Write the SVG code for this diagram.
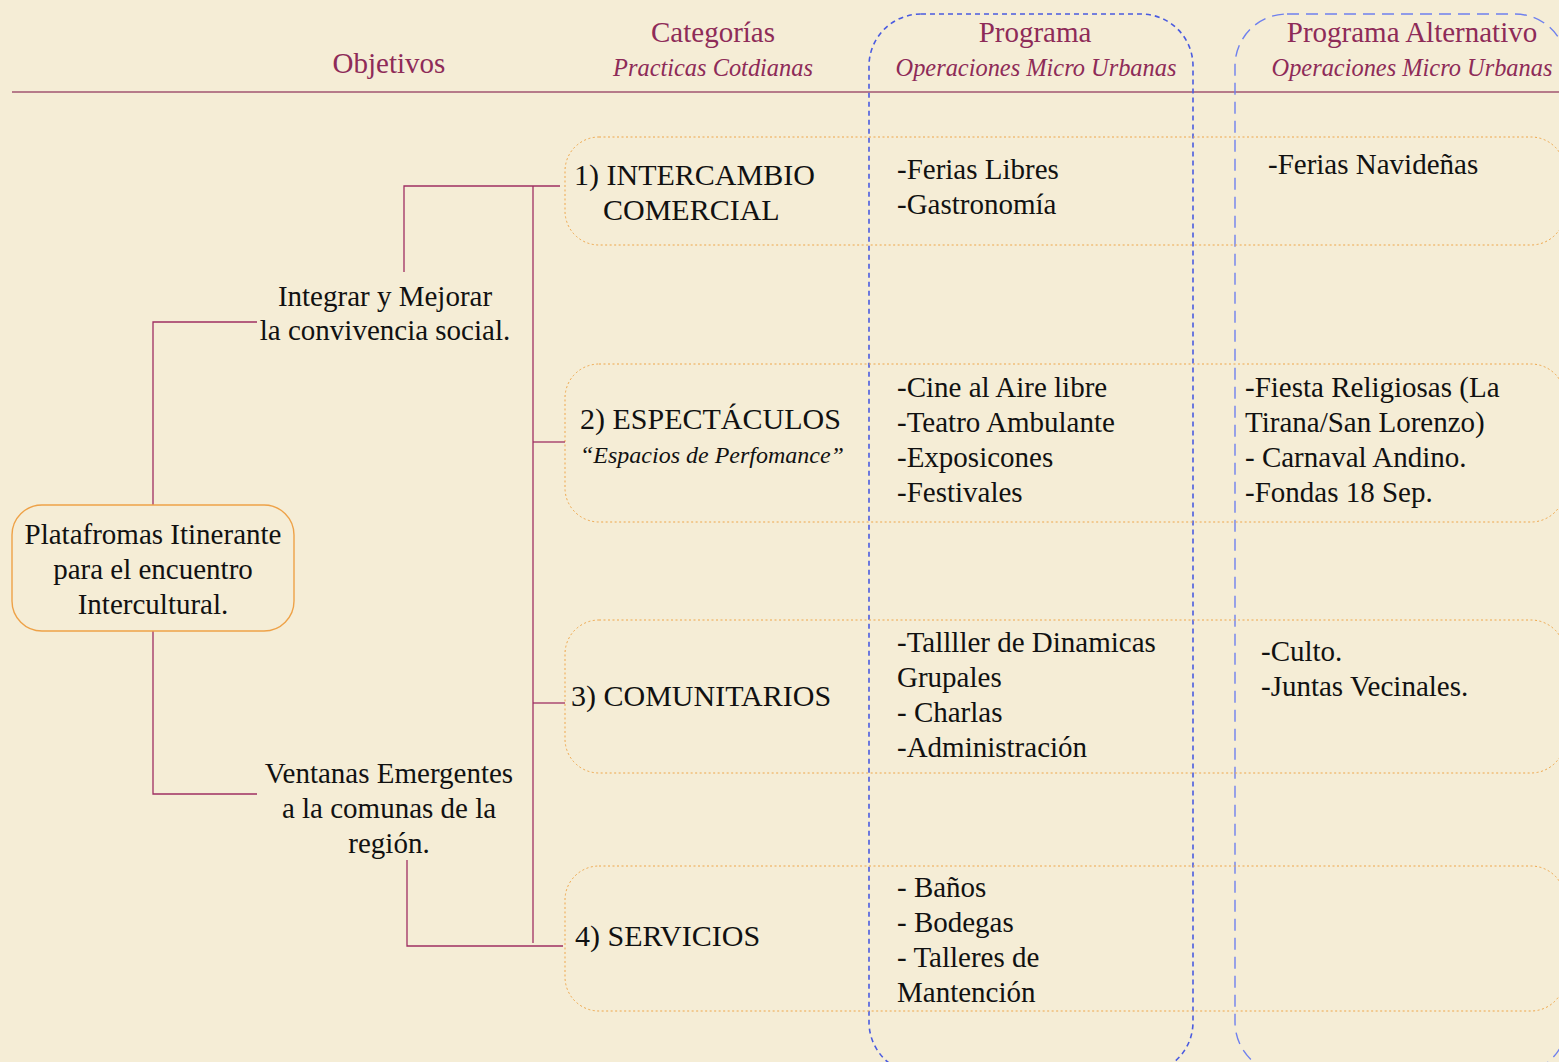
<svg xmlns="http://www.w3.org/2000/svg" width="1559" height="1062" viewBox="0 0 1559 1062">
<style>
.bg{fill:#F5EDD6}
.hd{font-family:"Liberation Serif",serif;font-size:29px;fill:#8E2B58;text-anchor:middle}
.hi{font-family:"Liberation Serif",serif;font-size:24.4px;font-style:italic;fill:#8E2B58;text-anchor:middle}
.t{font-family:"Liberation Serif",serif;font-size:29px;fill:#111}
.tk{font-family:"Liberation Serif",serif;font-size:30px;fill:#111}
.tc{font-family:"Liberation Serif",serif;font-size:29px;fill:#111;text-anchor:middle}
.ti{font-family:"Liberation Serif",serif;font-size:24px;font-style:italic;fill:#111}
.row{fill:none;stroke:#EFA64A;stroke-width:1;stroke-dasharray:2 2.5}
.prog{fill:none;stroke:#4A5BE0;stroke-width:1.6;stroke-dasharray:5 4}
.alt{fill:none;stroke:#6F80EE;stroke-width:1.4;stroke-dasharray:12 7}
.conn{fill:none;stroke:#9E2F62;stroke-width:1.3}
</style>
<rect class="bg" x="0" y="0" width="1559" height="1062"/>
<g id="header">
<line x1="12" y1="92" x2="1559" y2="92" stroke="#A05470" stroke-width="1.6"/>
<text class="hd" x="389" y="73">Objetivos</text>
<text class="hd" x="713" y="42">Categorías</text>
<text class="hi" x="713" y="76">Practicas Cotdianas</text>
<text class="hd" x="1035" y="42">Programa</text>
<text class="hi" x="1036" y="76">Operaciones Micro Urbanas</text>
<text class="hd" x="1412" y="42">Programa Alternativo</text>
<text class="hi" x="1412" y="76">Operaciones Micro Urbanas</text>
</g>
<g id="columns">
<rect class="prog" x="869" y="14" width="324" height="1060" rx="52"/>
<rect class="alt" x="1235" y="14" width="332" height="1060" rx="52"/>
</g>
<g id="rows">
<rect class="row" x="565" y="137" width="1000" height="108" rx="34"/>
<rect class="row" x="565" y="364" width="1000" height="158" rx="34"/>
<rect class="row" x="565" y="620" width="1000" height="153" rx="34"/>
<rect class="row" x="565" y="866" width="1000" height="145" rx="34"/>
</g>
<g id="connectors">
<polyline class="conn" points="153,505 153,322 257,322"/>
<polyline class="conn" points="153,631 153,794 257,794"/>
<polyline class="conn" points="404,272 404,186 560,186"/>
<line class="conn" x1="533" y1="186" x2="533" y2="943"/>
<line class="conn" x1="533" y1="442" x2="565" y2="442"/>
<line class="conn" x1="533" y1="703" x2="565" y2="703"/>
<polyline class="conn" points="407,860 407,946 563,946"/>
</g>
<g id="node-central">
<rect x="12" y="505" width="282" height="126" rx="30" fill="#F5EDD6" stroke="#EEA248" stroke-width="1.4"/>
<text class="tc" x="153" y="544">Platafromas Itinerante</text>
<text class="tc" x="153" y="579">para el encuentro</text>
<text class="tc" x="153" y="614">Intercultural.</text>
</g>
<g id="node-objetivo1">
<text class="tc" x="385" y="306">Integrar y Mejorar</text>
<text class="tc" x="385" y="340">la convivencia social.</text>
</g>
<g id="node-objetivo2">
<text class="tc" x="389" y="783">Ventanas Emergentes</text>
<text class="tc" x="389" y="818">a la comunas de la</text>
<text class="tc" x="389" y="853">región.</text>
</g>
<g id="node-cat1">
<text class="tk" x="574" y="185">1) INTERCAMBIO</text>
<text class="tk" x="603" y="220">COMERCIAL</text>
</g>
<g id="node-cat2">
<text class="tk" x="580" y="429">2) ESPECTÁCULOS</text>
<text class="ti" x="580" y="463">“Espacios de Perfomance”</text>
</g>
<g id="node-cat3">
<text class="tk" x="571" y="706">3) COMUNITARIOS</text>
</g>
<g id="node-cat4">
<text class="tk" x="575" y="946">4) SERVICIOS</text>
</g>
<g id="node-prog1">
<text class="t" x="897" y="179">-Ferias Libres</text>
<text class="t" x="897" y="214">-Gastronomía</text>
</g>
<g id="node-prog2">
<text class="t" x="897" y="397">-Cine al Aire libre</text>
<text class="t" x="897" y="432">-Teatro Ambulante</text>
<text class="t" x="897" y="467">-Exposicones</text>
<text class="t" x="897" y="502">-Festivales</text>
</g>
<g id="node-prog3">
<text class="t" x="897" y="652">-Tallller de Dinamicas</text>
<text class="t" x="897" y="687">Grupales</text>
<text class="t" x="897" y="722">- Charlas</text>
<text class="t" x="897" y="757">-Administración</text>
</g>
<g id="node-prog4">
<text class="t" x="897" y="897">- Baños</text>
<text class="t" x="897" y="932">- Bodegas</text>
<text class="t" x="897" y="967">- Talleres de</text>
<text class="t" x="897" y="1002">Mantención</text>
</g>
<g id="node-alt1">
<text class="t" x="1268" y="174">-Ferias Navideñas</text>
</g>
<g id="node-alt2">
<text class="t" x="1245" y="397">-Fiesta Religiosas (La</text>
<text class="t" x="1245" y="432">Tirana/San Lorenzo)</text>
<text class="t" x="1245" y="467">- Carnaval Andino.</text>
<text class="t" x="1245" y="502">-Fondas 18 Sep.</text>
</g>
<g id="node-alt3">
<text class="t" x="1261" y="661">-Culto.</text>
<text class="t" x="1261" y="696">-Juntas Vecinales.</text>
</g>
</svg>
